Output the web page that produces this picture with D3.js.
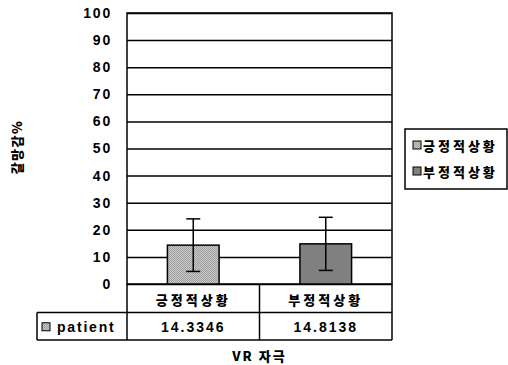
<!DOCTYPE html>
<html>
<head>
<meta charset="utf-8">
<script src="https://cdn.jsdelivr.net/npm/d3@7"></script>
<style>
  body { margin: 0; background: #fff; }
  text { font-family: "Liberation Sans", Arial, sans-serif; font-weight: bold; fill: #000; }
  .kr { font-family: "Noto Sans CJK KR", sans-serif; font-weight: 900; }
</style>
</head>
<body>
<div id="chart"></div>
<script>
// data
const categories = ["긍정적상황", "부정적상황"];
const seriesName = "patient";
const values = [14.3346, 14.8138];
const errors = [9.7, 9.8];
const yTicks = [0, 10, 20, 30, 40, 50, 60, 70, 80, 90, 100];
const yLabel = "갈망감%";
const xLabel = "VR 자극";

const W = 508, H = 365;
const margin = { top: 13, left: 127, right: 116, bottom: 81 };
const width = W - margin.left - margin.right,
      height = H - margin.top - margin.bottom;

const svg = d3.select("#chart").append("svg")
    .attr("width", W)
    .attr("height", H);

// fill pattern for first bar
const defs = svg.append("defs");
const pat = defs.append("pattern")
    .attr("id", "dots")
    .attr("width", 2).attr("height", 2)
    .attr("patternUnits", "userSpaceOnUse");
pat.append("rect").attr("width", 2).attr("height", 2).attr("fill", "#c8c8c8");
pat.append("rect").attr("width", 1).attr("height", 1).attr("fill", "#a0a0a0");
pat.append("rect").attr("x", 1).attr("y", 1).attr("width", 1).attr("height", 1).attr("fill", "#a0a0a0");
const fills = ["url(#dots)", "#808080"];

const g = svg.append("g")
    .attr("transform", `translate(${margin.left},${margin.top})`);

const x = d3.scaleBand()
    .domain(categories)
    .range([0, width]);

const y = d3.scaleLinear()
    .domain([0, 100])
    .range([height, 0]);

// gridlines
g.append("g")
    .call(d3.axisLeft(y).tickValues(yTicks).tickSize(-width).tickFormat(""))
    .call(s => s.select(".domain").remove())
    .selectAll("line")
    .attr("stroke", "#000")
    .attr("stroke-width", 1.5);

// y axis labels
g.append("g")
    .call(d3.axisLeft(y).tickValues(yTicks).tickSize(0).tickPadding(15))
    .call(s => s.select(".domain").remove())
    .selectAll("text")
    .style("font-size", "14px")
    .style("letter-spacing", "1.8px")
    .attr("font-family", null);

// plot frame
g.append("rect")
    .attr("width", width)
    .attr("height", height)
    .attr("fill", "none")
    .attr("stroke", "#000")
    .attr("stroke-width", 1.5);

// bars
const barW = x.bandwidth() * 0.39;
g.selectAll(".bar")
    .data(values)
    .enter().append("rect")
    .attr("class", "bar")
    .attr("x", (d, i) => x(categories[i]) + (x.bandwidth() - barW) / 2)
    .attr("y", d => y(d))
    .attr("width", barW)
    .attr("height", d => y(0) - y(d))
    .attr("fill", (d, i) => fills[i])
    .attr("stroke", "#000")
    .attr("stroke-width", 1.5);

// error bars
const errG = g.selectAll(".err")
    .data(values)
    .enter().append("g")
    .attr("class", "err")
    .attr("transform", (d, i) => `translate(${x(categories[i]) + x.bandwidth() / 2},0)`);
errG.append("line")
    .attr("y1", (d, i) => y(d + errors[i]))
    .attr("y2", (d, i) => y(d - errors[i]))
    .attr("stroke", "#000").attr("stroke-width", 1.5);
errG.append("line")
    .attr("x1", -7).attr("x2", 7)
    .attr("y1", (d, i) => y(d + errors[i]))
    .attr("y2", (d, i) => y(d + errors[i]))
    .attr("stroke", "#000").attr("stroke-width", 1.5);
errG.append("line")
    .attr("x1", -7).attr("x2", 7)
    .attr("y1", (d, i) => y(d - errors[i]))
    .attr("y2", (d, i) => y(d - errors[i]))
    .attr("stroke", "#000").attr("stroke-width", 1.5);

// data table under the chart
const rowH = 28.5;
const tableLeft = 37 - margin.left;
const t = g.append("g").attr("transform", `translate(0,${height})`);
const tline = (x1, y1, x2, y2) => t.append("line")
    .attr("x1", x1).attr("y1", y1).attr("x2", x2).attr("y2", y2)
    .attr("stroke", "#000").attr("stroke-width", 1.5);
tline(0, 0, 0, rowH * 2 - 1);
tline(width, 0, width, rowH * 2 - 1);
tline(x(categories[1]), 0, x(categories[1]), rowH * 2 - 1);
tline(tableLeft, rowH, width, rowH);
tline(tableLeft, rowH * 2 - 1, width, rowH * 2 - 1);
tline(tableLeft, rowH, tableLeft, rowH * 2 - 1);

categories.forEach((c, i) => {
    t.append("text")
        .attr("class", "kr")
        .attr("x", x(c) + x.bandwidth() / 2)
        .attr("y", rowH / 2 + 1)
        .attr("text-anchor", "middle")
        .attr("dominant-baseline", "central")
        .style("font-size", "13px")
        .style("letter-spacing", "3px")
        .text(c);
    t.append("text")
        .attr("x", x(c) + x.bandwidth() / 2)
        .attr("y", rowH * 1.5)
        .attr("text-anchor", "middle")
        .attr("dominant-baseline", "central")
        .style("font-size", "14px")
        .style("letter-spacing", "2px")
        .text(values[i]);
});
t.append("rect")
    .attr("x", tableLeft + 5).attr("y", rowH * 1.5 - 4)
    .attr("width", 8).attr("height", 8)
    .attr("fill", fills[0]).attr("stroke", "#000");
t.append("text")
    .attr("x", tableLeft + 20)
    .attr("y", rowH * 1.5)
    .attr("dominant-baseline", "central")
    .style("font-size", "14px")
    .style("letter-spacing", "1.8px")
    .text(seriesName);

// axis titles
svg.append("text")
    .attr("class", "kr")
    .attr("transform", "translate(16,147) rotate(-90)")
    .attr("text-anchor", "middle")
    .attr("dominant-baseline", "central")
    .style("font-size", "13px")
    .style("letter-spacing", "1.5px")
    .text(yLabel);

svg.append("text")
    .attr("class", "kr")
    .attr("x", margin.left + width / 2)
    .attr("y", 355)
    .attr("text-anchor", "middle")
    .attr("dominant-baseline", "central")
    .style("font-size", "13px")
    .style("letter-spacing", "2px")
    .text(xLabel);

// legend
const legend = svg.append("g").attr("transform", "translate(405,129)");
legend.append("rect")
    .attr("width", 102).attr("height", 60)
    .attr("fill", "#fff").attr("stroke", "#000").attr("stroke-width", 1.5);
categories.forEach((c, i) => {
    const row = legend.append("g").attr("transform", `translate(8,${16 + i * 26})`);
    row.append("rect")
        .attr("x", 0).attr("y", -4)
        .attr("width", 8).attr("height", 8)
        .attr("fill", fills[i]).attr("stroke", "#000");
    row.append("text")
        .attr("class", "kr")
        .attr("x", 10)
        .attr("dominant-baseline", "central")
        .style("font-size", "13px")
        .style("letter-spacing", "3px")
        .text(c);
});
</script>
</body>
</html>
